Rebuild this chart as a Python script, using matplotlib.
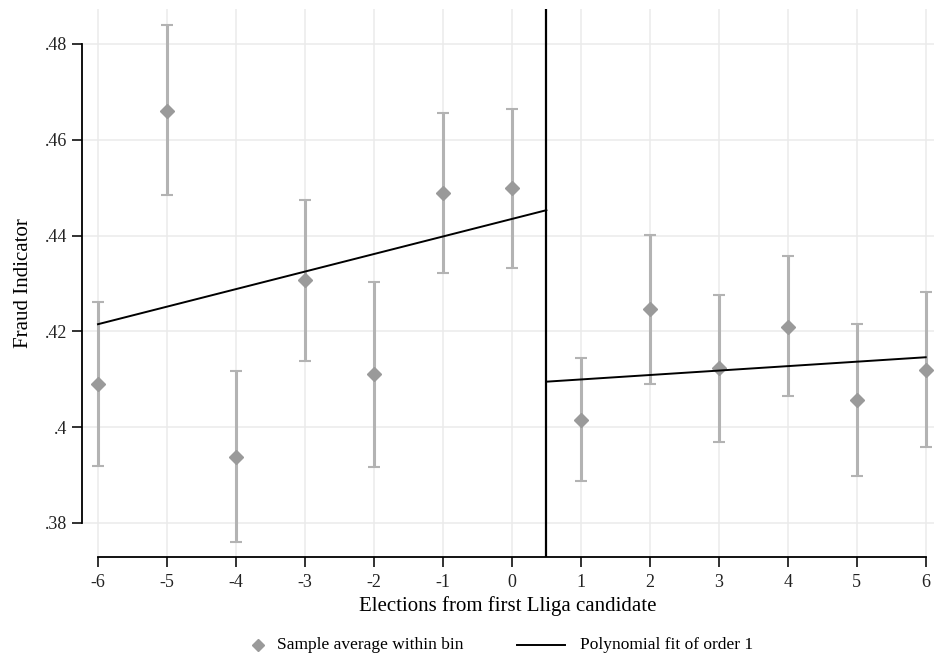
import numpy as np
import matplotlib.pyplot as plt
from matplotlib.lines import Line2D

plt.rcParams['font.family'] = ['Liberation Serif', 'DejaVu Serif']

# binned sample averages with confidence bands
bins = [-6, -5, -4, -3, -2, -1, 0, 1, 2, 3, 4, 5, 6]
means = [0.4091, 0.4661, 0.3938, 0.4307, 0.4110, 0.4488, 0.4499,
         0.4015, 0.4246, 0.4124, 0.4210, 0.4057, 0.4120]
ci_lo = [0.3920, 0.4485, 0.3761, 0.4139, 0.3916, 0.4321, 0.4333,
         0.3888, 0.4091, 0.3970, 0.4065, 0.3898, 0.3958]
ci_hi = [0.4262, 0.4839, 0.4117, 0.4475, 0.4304, 0.4655, 0.4665,
         0.4144, 0.4401, 0.4275, 0.4357, 0.4215, 0.4283]

# linear fits each side of the cutoff
fit_left_x = [-6, 0.5]
fit_left_y = [0.4215, 0.4453]
fit_right_x = [0.5, 6]
fit_right_y = [0.4095, 0.4146]
cutoff = 0.5

yticks = [0.38, 0.40, 0.42, 0.44, 0.46, 0.48]
ytick_labels = ['.38', '.4', '.42', '.44', '.46', '.48']
xtick_labels = ['-6', '-5', '-4', '-3', '-2', '-1', '0', '1', '2', '3', '4', '5', '6']

W, H = 934, 666
fig = plt.figure(figsize=(W / 100, H / 100), dpi=100)
ax = fig.add_axes([82 / W, 109 / H, (W - 82) / W, 548 / H])

means = np.array(means)
err = [means - np.array(ci_lo), np.array(ci_hi) - means]
ax.errorbar(bins, means, yerr=err, fmt='none', ecolor='#b3b3b3',
            elinewidth=2.2, capsize=4, capthick=1.5, zorder=3)
ax.plot(bins, means, linestyle='none', marker='D', markersize=7,
        color='#9a9a9a', zorder=4)

ax.plot(fit_left_x, fit_left_y, color='black', lw=1.4, zorder=5)
ax.plot(fit_right_x, fit_right_y, color='black', lw=1.4, zorder=5)
ax.axvline(cutoff, color='black', lw=1.6, zorder=6)

ax.set_xlim(-6.232, 6.12)
ax.set_ylim(0.3729, 0.4873)
ax.set_xticks(bins)
ax.set_xticklabels(xtick_labels)
ax.set_yticks(yticks)
ax.set_yticklabels(ytick_labels)
ax.grid(True, color='#ebebeb', lw=1.1, zorder=0)
ax.set_axisbelow(True)

for s in ['top', 'right']:
    ax.spines[s].set_visible(False)
ax.spines['left'].set_bounds(0.38, 0.48)
ax.spines['bottom'].set_bounds(-6, 6)
for s in ['left', 'bottom']:
    ax.spines[s].set_linewidth(1.3)
ax.tick_params(axis='both', length=7, width=1.3, labelsize=13, colors='#222222')
ax.tick_params(axis='x', pad=5)

ax.set_xlabel('Elections from first Lliga candidate', fontsize=15, labelpad=4)
ax.set_ylabel('Fraud Indicator', fontsize=15, labelpad=9)

# legend drawn below the plot
fig.add_artist(Line2D([258 / W], [1 - 645 / H], marker='D', markersize=6.5,
                      color='#9a9a9a', linestyle='none'))
fig.text(277 / W, 1 - 645 / H, 'Sample average within bin', fontsize=12.5,
         va='center', ha='left')
fig.add_artist(Line2D([517 / W, 565 / W], [1 - 645 / H, 1 - 645 / H],
                      color='black', lw=1.4))
fig.text(580 / W, 1 - 645 / H, 'Polynomial fit of order 1', fontsize=12.5,
         va='center', ha='left')

fig.savefig('out.png', dpi=100)
